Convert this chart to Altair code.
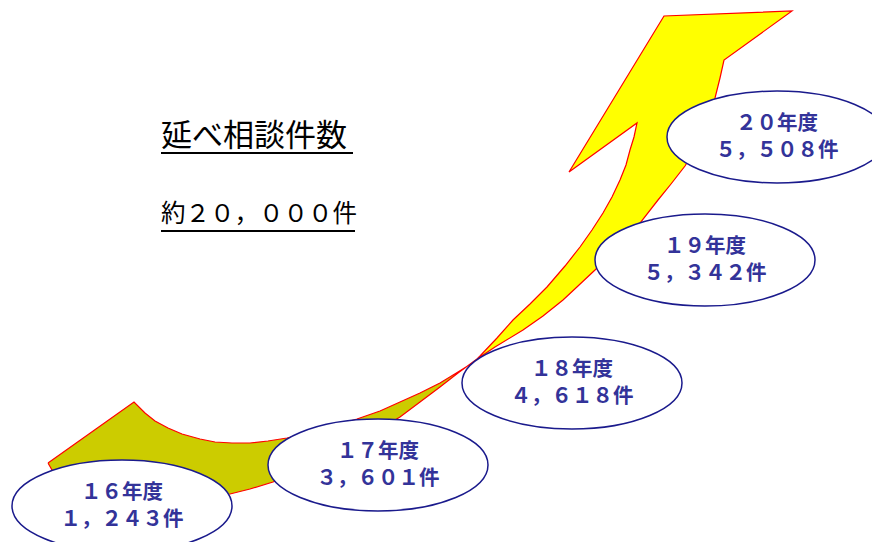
import altair as alt
import pandas as pd

# ---- data ----
years = ["１６年度", "１７年度", "１８年度", "１９年度", "２０年度"]
counts = [1243, 3601, 4618, 5342, 5508]
title_main = "延べ相談件数"
title_total = "約２０，０００件"

# ---- layout (page pixel coordinates) ----
bubble_cx = [122, 378, 572, 705, 777]
bubble_cy = [506, 465, 383, 260, 137]

arrow_x = [48, 134, 145, 155, 168, 182, 200, 215, 232, 250, 268, 287, 320, 357, 380, 400,
           420, 440, 458, 474, 480, 497, 513, 530, 547, 565, 580, 592, 603, 612, 620, 626,
           630, 634, 637, 569, 664, 792, 724, 720, 715, 708, 698, 685, 671, 658, 640, 618,
           595, 578, 563, 543, 523, 495, 477, 458, 440, 420, 400, 370, 340, 310, 273, 250,
           230, 190, 150, 110, 75, 52, 48]
arrow_y = [463, 402, 413, 421, 428, 434, 439, 442, 443, 443, 441, 438, 430, 419, 411, 402,
           393, 383, 372, 362, 356, 338, 320, 304, 287, 266, 247, 230, 213, 197, 180, 165,
           150, 137, 123, 172, 16, 11, 60, 78, 98, 122, 145, 166, 184, 200, 223, 247,
           270, 286, 300, 316, 330, 347, 359, 373, 387, 402, 417, 435, 452, 467, 482, 489,
           494, 496, 493, 487, 478, 470, 463]

title_x = [161, 161]
title_y = [137, 215]
title_size = [31, 24.5]
rule_x1 = [161, 161]
rule_x2 = [353, 355]
rule_y = [153, 231]

FW = str.maketrans("0123456789,", "０１２３４５６７８９，")


def fullwidth(n):
    return f"{n:,}".translate(FW) + "件"


bubbles = pd.DataFrame({
    "year": years,
    "count": counts,
    "label": [fullwidth(c) for c in counts],
    "cx": bubble_cx,
    "cy": bubble_cy,
})
arrow = pd.DataFrame({"i": list(range(len(arrow_x))), "x": arrow_x, "y": arrow_y})
titles = pd.DataFrame({"t": [title_main, title_total], "x": title_x, "y": title_y,
                       "s": title_size})
rules = pd.DataFrame({"x": rule_x1, "x2": rule_x2, "y": rule_y})

W, H = 864, 534
xs = alt.Scale(domain=[8, 8 + W])
ys = alt.Scale(domain=[8, 8 + H], reverse=True)

grad = alt.Gradient(
    gradient="linear", x1=0, y1=0, x2=1, y2=0,
    stops=[alt.GradientStop(color="#CCCC00", offset=0),
           alt.GradientStop(color="#CCCC00", offset=0.566),
           alt.GradientStop(color="#FFFF00", offset=0.58),
           alt.GradientStop(color="#FFFF00", offset=1)],
)

arrow_layer = alt.Chart(arrow).mark_line(
    fill=grad, stroke="#FF0000", strokeWidth=1.2, interpolate="linear"
).encode(
    x=alt.X("x:Q", scale=xs, axis=None),
    y=alt.Y("y:Q", scale=ys, axis=None),
    order=alt.Order("i:Q"),
)

r = 92 / 220
k = 0.5523
ell = (f"M1,0 C1,{k*r:.4f} {k},{r:.4f} 0,{r:.4f} C{-k},{r:.4f} -1,{k*r:.4f} -1,0 "
       f"C-1,{-k*r:.4f} {-k},{-r:.4f} 0,{-r:.4f} C{k},{-r:.4f} 1,{-k*r:.4f} 1,0 Z")

ellipse_layer = alt.Chart(bubbles).mark_point(
    shape=ell, size=220 * 220, filled=True, fill="white", stroke="#1A1A8C",
    strokeWidth=1.5, opacity=1, fillOpacity=1, strokeOpacity=1
).encode(
    x=alt.X("cx:Q", scale=xs, axis=None),
    y=alt.Y("cy:Q", scale=ys, axis=None),
)

txt = dict(font="Noto Sans CJK JP", fontSize=20.5, fontWeight="bold", color="#333399",
           align="center", baseline="middle")
year_layer = alt.Chart(bubbles).mark_text(dy=-13, **txt).encode(
    x=alt.X("cx:Q", scale=xs, axis=None),
    y=alt.Y("cy:Q", scale=ys, axis=None),
    text="year:N",
)
count_layer = alt.Chart(bubbles).mark_text(dy=14, **txt).encode(
    x=alt.X("cx:Q", scale=xs, axis=None),
    y=alt.Y("cy:Q", scale=ys, axis=None),
    text="label:N",
)

title_layer = alt.Chart(titles).mark_text(
    font="Noto Sans CJK JP", color="#000000", align="left", baseline="middle"
).encode(
    x=alt.X("x:Q", scale=xs, axis=None),
    y=alt.Y("y:Q", scale=ys, axis=None),
    text="t:N",
    size=alt.Size("s:Q", scale=None, legend=None),
)

rule_layer = alt.Chart(rules).mark_rule(color="#000000", strokeWidth=2).encode(
    x=alt.X("x:Q", scale=xs, axis=None),
    x2="x2:Q",
    y=alt.Y("y:Q", scale=ys, axis=None),
)

chart = alt.layer(
    arrow_layer, ellipse_layer, year_layer, count_layer, title_layer, rule_layer
).properties(
    width=W, height=H, padding=0, autosize=alt.AutoSizeParams(type="none"),
    background="white",
).configure_view(stroke=None)

chart.save("out.html", embed_options={"renderer": "svg", "actions": False})
